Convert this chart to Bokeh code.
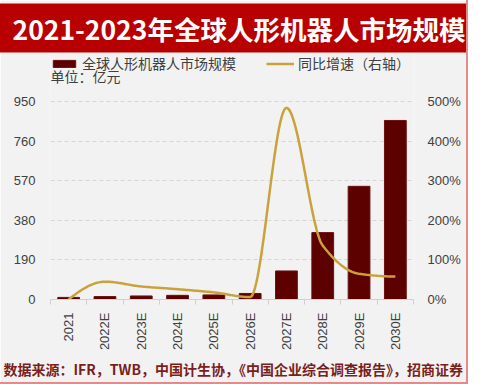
import math
import numpy as np
from bokeh.plotting import figure
from bokeh.models import (Range1d, LinearAxis, FixedTicker, Grid, Legend, LegendItem,
                          Title, Label, PrintfTickFormatter)
from bokeh.embed import file_html
from bokeh.resources import INLINE

# ---------------- data ----------------
title_text = "2021-2023年全球人形机器人市场规模"
categories = ["2021", "2022E", "2023E", "2024E", "2025E", "2026E", "2027E", "2028E", "2029E", "2030E"]
market_size = [10, 14, 17, 20, 22, 29, 137, 321, 543, 859]          # 亿元
yoy_growth = [0, 45, 33, 26, 18, 6, 484, 136, 65, 58]               # %
left_ticks = [0, 190, 380, 570, 760, 950]
right_ticks = [0, 100, 200, 300, 400, 500]
bar_label = "全球人形机器人市场规模"
line_label = "同比增速（右轴）"
unit_text = "单位：亿元"
source_text = "数据来源：IFR，TWB，中国计生协，《中国企业综合调查报告》，招商证券"

CJK = "Noto Sans CJK SC"
LAT = "Liberation Sans"
BG = "#f2f2f2"
BAR = "#5c0000"
GOLD = "#c9a23c"
TXT = "#404040"

# layout (pixels)
PLOT_H = 198      # pixels from 0 to the top tick
HEAD_H = 48       # frame space above the top tick (legend + unit text)
FRAME_W = 363
FRAME_H = PLOT_H + HEAD_H

n = len(categories)
centers = [i + 0.5 for i in range(n)]
bounds = [float(i) for i in range(n + 1)]
ytop = left_ticks[-1] * FRAME_H / PLOT_H
ptop = right_ticks[-1] * FRAME_H / PLOT_H

p = figure(frame_width=FRAME_W, frame_height=FRAME_H, x_range=Range1d(0, n), y_range=Range1d(0, ytop),
           toolbar_location=None, output_backend="svg", x_axis_type=None, y_axis_type=None,
           min_border_left=50, min_border_right=53, min_border_top=0, min_border_bottom=78,
           background_fill_color=BG, border_fill_color=BG, outline_line_color=None)
p.extra_y_ranges = {"pct": Range1d(0, ptop)}
p.styles = {"box-shadow": "0 0 0 2px #e58a8a"}

lt = FixedTicker(ticks=left_ticks)
p.add_layout(Grid(dimension=1, ticker=lt, grid_line_color="#d6d6d6", grid_line_dash="4 3"))

bars = p.vbar(x=centers, top=market_size, width=0.6, fill_color=BAR, line_color="#6a1010")


def monotone_curve(xv, yv, m=30):
    """Monotone cubic (Fritsch-Carlson) drawing of the growth series."""
    x = np.asarray(xv, float)
    y = np.asarray(yv, float)
    h = np.diff(x)
    d = np.diff(y) / h
    N = len(x)
    t = np.zeros(N)
    for k in range(1, N - 1):
        if d[k - 1] * d[k] > 0:
            w1 = 2 * h[k] + h[k - 1]
            w2 = h[k] + 2 * h[k - 1]
            t[k] = (w1 + w2) / (w1 / d[k - 1] + w2 / d[k])
    for k, (a, b, hk, hn) in ((0, (d[0], d[1], h[0], h[1])), (N - 1, (d[-1], d[-2], h[-1], h[-2]))):
        v = ((2 * hk + hn) * a - hk * b) / (hk + hn)
        if np.sign(v) != np.sign(a):
            v = 0.0
        elif np.sign(a) != np.sign(b) and abs(v) > abs(3 * a):
            v = 3 * a
        t[k] = v
    xs, ys = [x[0]], [y[0]]
    for k in range(N - 1):
        for s in np.linspace(0, 1, m)[1:]:
            h00 = 2 * s ** 3 - 3 * s ** 2 + 1
            h10 = s ** 3 - 2 * s ** 2 + s
            h01 = -2 * s ** 3 + 3 * s ** 2
            h11 = s ** 3 - s ** 2
            xs.append(x[k] + s * h[k])
            ys.append(h00 * y[k] + h10 * h[k] * t[k] + h01 * y[k + 1] + h11 * h[k] * t[k + 1])
    return np.array(xs), np.array(ys)


lx, ly = monotone_curve(centers, yoy_growth)
line = p.line(lx, ly, y_range_name="pct", line_color=GOLD, line_width=2.5)

# axes
xaxis = LinearAxis(ticker=FixedTicker(ticks=centers, minor_ticks=bounds),
                   major_label_overrides={c: lab for c, lab in zip(centers, categories)})
xaxis.axis_line_color = "#d0d0d0"
xaxis.major_tick_line_color = None
xaxis.major_tick_out = 0
xaxis.major_tick_in = 0
xaxis.minor_tick_line_color = "#d0d0d0"
xaxis.minor_tick_out = 5
xaxis.minor_tick_in = 0
xaxis.major_label_orientation = math.pi / 2
xaxis.major_label_standoff = 8
xaxis.major_label_text_font = LAT
xaxis.major_label_text_font_size = "13px"
xaxis.major_label_text_color = TXT
p.add_layout(xaxis, "below")

yaxis = LinearAxis(ticker=lt)
yaxis.axis_line_color = None
yaxis.major_tick_line_color = None
yaxis.minor_tick_line_color = None
yaxis.major_tick_out = 0
yaxis.major_label_standoff = 15
yaxis.major_label_text_font = LAT
yaxis.major_label_text_font_size = "13px"
yaxis.major_label_text_color = TXT
p.add_layout(yaxis, "left")

raxis = LinearAxis(y_range_name="pct", ticker=FixedTicker(ticks=right_ticks),
                   formatter=PrintfTickFormatter(format="%d%%"))
raxis.axis_line_color = None
raxis.major_tick_line_color = None
raxis.minor_tick_line_color = None
raxis.major_tick_out = 0
raxis.major_label_standoff = 14
raxis.major_label_text_font = LAT
raxis.major_label_text_font_size = "13px"
raxis.major_label_text_color = TXT
p.add_layout(raxis, "right")

# legend inside the head space of the frame
legend = Legend(items=[LegendItem(label=bar_label, renderers=[bars]),
                       LegendItem(label=line_label, renderers=[line])],
                orientation="horizontal", location="top_left",
                label_text_font=CJK, label_text_font_size="14px", label_text_color=TXT,
                glyph_width=28, glyph_height=9, label_standoff=4, spacing=30,
                label_height=16, padding=0, margin=0, background_fill_alpha=0,
                border_line_color=None)
p.add_layout(legend, "center")

# unit text just below the legend
p.add_layout(Label(x=0, y=ytop - 22 * left_ticks[-1] / PLOT_H, text=unit_text,
                   text_align="left", text_baseline="middle", text_font=CJK,
                   text_font_size="14px", text_color=TXT))

# title bar (the offset accounts for the 80px side padding of its red box)
p.add_layout(Title(text=title_text, align="left", offset=-118, standoff=2,
                   text_font=CJK, text_font_size="26.5px", text_font_style="bold",
                   text_color="white", background_fill_color="#b80000",
                   padding=(80, 5)), "above")

# source note
p.add_layout(Title(text=source_text, align="left", offset=-47, standoff=7,
                   text_font=CJK, text_font_size="14px", text_font_style="bold",
                   text_color="#7a1e1e"), "below")

open("out.html", "w").write(file_html(p, INLINE))
